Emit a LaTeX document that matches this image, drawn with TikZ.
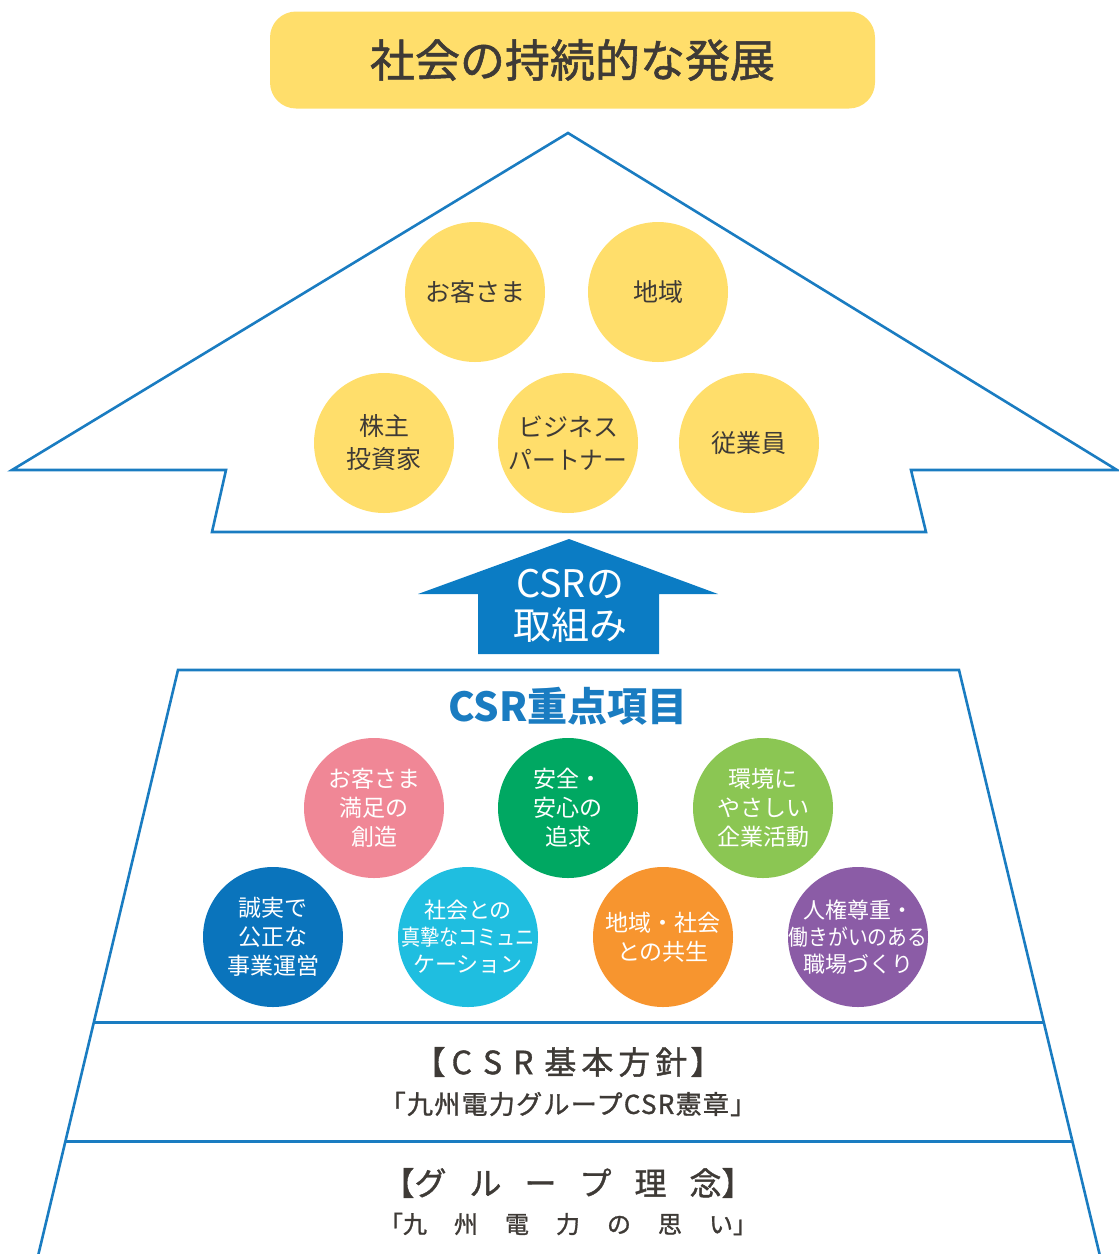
\documentclass[tikz,border=0pt]{standalone}
\usepackage{fontspec}
\setmainfont{Noto Sans CJK JP}
\newfontfamily\jpm[FakeBold=1.2]{Noto Sans CJK JP}
\newfontfamily\jpl{Noto Sans CJK JP}
\definecolor{ylw}{HTML}{FFDE6B}
\definecolor{txt}{HTML}{3E3A36}
\definecolor{lineblue}{HTML}{1A7CC1}
\definecolor{arrowblue}{HTML}{0B7CC4}
\definecolor{cpink}{HTML}{F08796}
\definecolor{cgreen}{HTML}{00A862}
\definecolor{clgreen}{HTML}{8BC653}
\definecolor{cblue}{HTML}{0A74BC}
\definecolor{ccyan}{HTML}{1FBEE0}
\definecolor{corange}{HTML}{F7952F}
\definecolor{cpurple}{HTML}{8B5CA6}
\tikzset{
  ycirc/.style={circle, fill=ylw, minimum size=140pt, inner sep=0pt, align=center, text=txt, font=\fontsize{25}{33}\selectfont},
  cdisc/.style={circle, fill=#1, minimum size=140pt, inner sep=0pt},
  ctext/.style={align=center, text=white, inner sep=0pt, font=\jpl\fontsize{23}{29}\selectfont},
  outline/.style={draw=lineblue, line width=2.6pt, line join=miter},
  band/.style={draw=lineblue, line width=3pt},
}
\begin{document}
\begin{tikzpicture}[x=1pt,y=-1pt]
\useasboundingbox (0,0) rectangle (1119,1254);
% top banner
\node[fill=ylw, rounded corners=26pt, minimum width=605pt, minimum height=97pt, inner sep=0pt,
      text=txt, font=\jpm\fontsize{45}{45}\selectfont] (goal) at (572.5,60) {社会の持続的な発展};
% house outline
\draw[outline] (568,133) -- (1117,470) -- (911,470) -- (926,532) -- (212,532) -- (226,470) -- (12,470) -- cycle;
\node[ycirc] (c1) at (475,292) {お客さま};
\node[ycirc] (c2) at (658,292) {地域};
\node[ycirc] (c3) at (384,443) {株主\\投資家};
\node[ycirc] (c4) at (568,443) {ビジネス\\\scalebox{0.95}[1]{パートナー}};
\node[ycirc] (c5) at (749,443) {従業員};
% arrow
\fill[arrowblue] (569,539) -- (718,594) -- (659,594) -- (659,654) -- (478,654) -- (478,594) -- (418,594) -- cycle;
\node[text=white, align=center, font=\fontsize{38}{42}\selectfont] (arr) at (570,606) {CSRの\\取組み};
% trapezoid
\draw[outline] (38,1256) -- (178,670) -- (959,670) -- (1100,1256);
\coordinate (b1l) at (93.5,1022);
\coordinate (b1r) at (1044,1022);
\coordinate (b2l) at (65,1141);
\coordinate (b2r) at (1072.5,1141);
\draw[band] (b1l) -- (b1r);
\draw[band] (b2l) -- (b2r);
\node[text=lineblue, font=\bfseries\fontsize{40}{40}\selectfont] (title) at (568,706) {CSR重点項目};
\node[cdisc=cpink] (k1) at (374,808) {};
\node[ctext] at (k1) {お客さま\\満足の\\創造};
\node[cdisc=cgreen] (k2) at (568,808) {};
\node[ctext] at (k2) {安全・\\安心の\\追求};
\node[cdisc=clgreen] (k3) at (763,808) {};
\node[ctext] at (k3) {環境に\\やさしい\\企業活動};
\node[cdisc=cblue] (k4) at (273,937) {};
\node[ctext] at (k4) {誠実で\\公正な\\事業運営};
\node[cdisc=ccyan] (k5) at (468,937) {};
\node[ctext, font=\jpl\fontsize{22}{27}\selectfont] at (k5) {社会との\\\scalebox{0.87}[1]{真摯なコミュニ}\\ケーション};
\node[cdisc=corange] (k6) at (663,937) {};
\node[ctext] at (k6) {地域・社会\\との共生};
\node[cdisc=cpurple] (k7) at (858,937) {};
\node[ctext, font=\jpl\fontsize{22}{27}\selectfont] at (k7) {人権尊重・\\\scalebox{0.9}[1]{働きがいのある}\\職場づくり};
% bands text
\node[text=txt, font=\jpm\fontsize{32}{32}\selectfont] (p1) at (568,1062) {【\hspace{6pt}C\hspace{11pt}S\hspace{11pt}R\hspace{11pt}基\hspace{5pt}本\hspace{5pt}方\hspace{5pt}針\hspace{3pt}】};
\node[text=txt, font=\jpm\fontsize{26}{26}\selectfont\addfontfeature{LetterSpace=5}] (p2) at (568,1104) {「九州電力グループCSR憲章」};
\node[text=txt, font=\jpm\fontsize{32}{32}\selectfont] (p3) at (568,1183) {【グ\hspace{23pt}ル\hspace{23pt}ー\hspace{23pt}プ\hspace{23pt}理\hspace{23pt}念】};
\node[text=txt, font=\jpm\fontsize{24}{24}\selectfont] (p4) at (568,1224) {「九\hspace{27pt}州\hspace{27pt}電\hspace{27pt}力\hspace{27pt}の\hspace{27pt}思\hspace{27pt}い」};
\end{tikzpicture}
\end{document}
